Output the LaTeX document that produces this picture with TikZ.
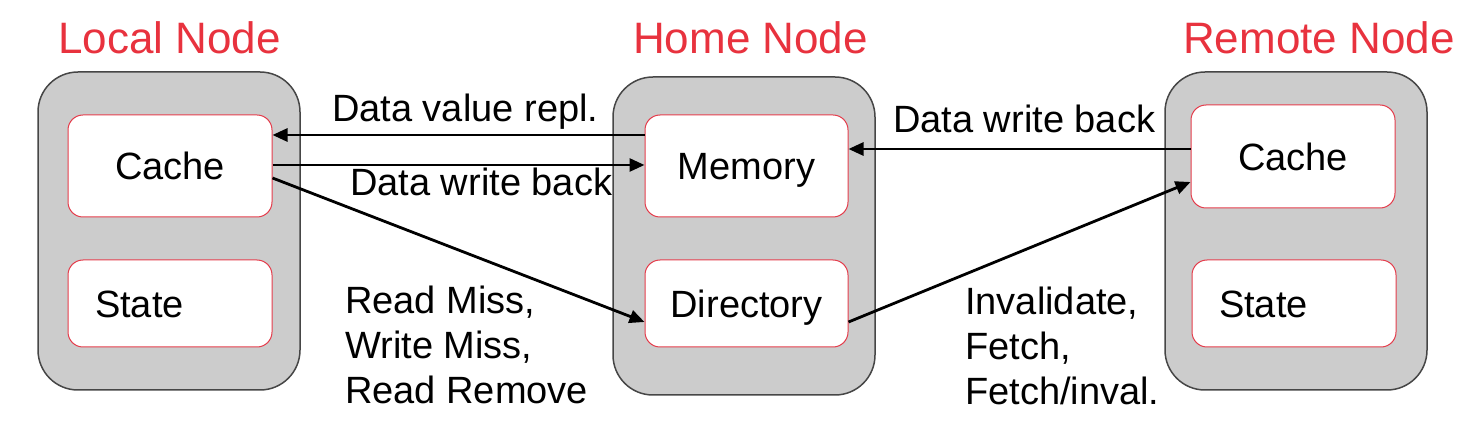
\documentclass[tikz,border=0pt]{standalone}
\usepackage{fontspec}
\setmainfont{Liberation Sans}
\usetikzlibrary{arrows.meta}
\definecolor{titlered}{RGB}{232,50,62}
\definecolor{boxred}{RGB}{228,60,75}
\definecolor{nodegray}{RGB}{204,204,204}
\definecolor{edgegray}{RGB}{70,70,70}
\begin{document}
\begin{tikzpicture}[x=1pt,y=-1pt,
  every node/.style={font=\fontsize{38}{45}\selectfont},
  outerbox/.style={draw=edgegray, line width=1.5pt, fill=nodegray, rounded corners=40pt,
    minimum width=262pt, minimum height=318pt, inner sep=0pt},
  innerbox/.style={draw=boxred, line width=1pt, fill=white, rounded corners=15pt,
    minimum width=204pt, inner sep=0pt, text height=28pt, text depth=0pt},
  leftbox/.style={innerbox, align=left, text width=150pt, inner xsep=27pt},
  title/.style={text=titlered, font=\fontsize{44}{50}\selectfont, anchor=base west, inner sep=0pt},
  lbl/.style={anchor=base west, inner sep=0pt, align=left},
  arr/.style={line width=2.8pt, -{Triangle[length=15pt,width=13pt]}}]
\useasboundingbox (0,0) rectangle (1484,438);

% titles
\node[title] (tl) at (58,54) {Local Node};
\node[title] (th) at (633,54) {Home Node};
\node[title] (tr) at (1183,54) {Remote Node};

% outer boxes
\node[outerbox] (local) at (169,231) {};
\node[outerbox] (home) at (744,236) {};
\node[outerbox] (remote) at (1296,231) {};

% inner boxes
\node[innerbox, minimum height=102pt] (lc) at (170,166) {Cache};
\node[leftbox, minimum height=87pt] (ls) at (170,303.5) {State};
\node[innerbox, minimum height=102pt, minimum width=203pt] (mem) at (746.5,166) {Memory};
\node[innerbox, minimum height=87pt, minimum width=203pt] (dir) at (746.5,303.5) {Directory};
\node[innerbox, minimum height=103pt] (rc) at (1293,156.5) {Cache};
\node[leftbox, minimum height=87pt, minimum width=202pt] (rs) at (1294,303.5) {State};

% connectors
\draw[arr] ([yshift=31pt]mem.west) -- ([yshift=31pt]mem.west -| lc.east);
\draw[arr] ([yshift=1pt]lc.east) -- ([yshift=1pt]lc.east -| mem.west);
\draw[arr] ([yshift=-12pt]lc.east) -- ([yshift=-18.5pt]dir.west);
\draw[arr] ([yshift=-18.5pt]dir.east) -- ([yshift=-25.5pt]rc.west);
\draw[arr] ([yshift=7.5pt]rc.west) -- ([yshift=7.5pt]rc.west -| mem.east);

% labels
\node[lbl] (l1) at (332,122) {Data value repl.};
\node[lbl] (l2) at (350,196) {Data write back};
\node[lbl] (l3) at (893,133) {Data write back};
\node[lbl] (l4) at (345,403) {Read Miss,\\Write Miss,\\Read Remove};
\node[lbl] (l5) at (965,404) {Invalidate,\\Fetch,\\Fetch/inval.};
\end{tikzpicture}
\end{document}
